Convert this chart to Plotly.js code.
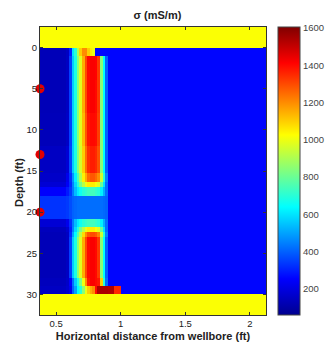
<!DOCTYPE html>
<html>
<head>
<meta charset="utf-8">
<script src="https://cdn.plot.ly/plotly-3.0.1.min.js"></script>
<style>html,body{margin:0;padding:0;background:#fff;}#chart{width:335px;height:346px;}</style>
</head>
<body>
<div id="chart"></div>
<script>
// Cell edges (ft)
const xEdges = [0.375, 0.58, 0.60, 0.62, 0.64, 0.66, 0.68, 0.70, 0.72, 0.74, 0.76, 0.78, 0.80, 0.82, 0.84, 0.86, 0.88, 0.90, 0.95, 1.00, 2.125];
const depthEdges = [-2.5, 0, 1, 4, 8, 12, 15.2, 16.3, 17, 18, 20.8, 21.8, 22.4, 23, 28, 29, 30, 32.5];

// Conductivity rows (mS/m), one per depth interval
const rowShoulderTop = [1020,1020,1020,1020,1020,1020,1020,1020,1020,1020,1020,1020,1020,1020,1020,1020,1020,1020,1020,1020];
const rowTop         = [130,150,300,600,700,900,1100,1200,1200,1100,1050,1000,260,260,260,260,260,260,260,260];
const rowInvA        = [130,150,350,560,680,850,980,1150,1300,1400,1420,1420,1410,1330,850,640,400,260,260,260];
const rowInvB        = [130,150,350,560,680,850,980,1150,1300,1400,1420,1420,1400,1330,850,640,400,260,260,260];
const rowInvC        = [135,155,350,560,680,850,980,1130,1280,1380,1400,1400,1390,1320,850,640,400,260,260,260];
const rowInvD        = [150,180,360,560,680,840,960,1100,1240,1340,1370,1370,1350,1290,850,640,400,260,260,260];
const rowOrange1     = [160,220,330,480,620,760,900,1050,1150,1250,1280,1280,1250,1200,950,700,450,260,260,260];
const rowYellow1     = [180,240,320,450,580,700,820,920,1000,1050,1050,1050,1020,980,800,600,420,260,260,260];
const rowCyan1       = [250,290,340,440,540,610,660,700,720,740,740,740,720,700,620,520,420,260,260,260];
const rowBand        = [330,340,370,400,410,420,420,420,420,420,420,420,420,420,420,410,400,260,260,260];
const rowCyan2       = [180,220,320,440,540,610,660,700,720,740,740,740,720,700,620,520,420,260,260,260];
const rowYellow2     = [140,170,300,450,580,700,820,920,1000,1050,1050,1050,1020,980,800,600,420,260,260,260];
const rowOrange2     = [130,150,320,500,640,780,920,1080,1200,1280,1300,1300,1280,1220,950,700,450,260,260,260];
const rowInvE        = [130,150,350,560,680,850,980,1150,1300,1400,1420,1420,1400,1330,850,640,400,260,260,260];
const rowInvF        = [140,160,250,420,560,680,820,1000,1200,1380,1420,1420,1400,1380,1100,700,420,260,260,260];
const rowBottom      = [150,170,220,400,500,640,700,850,1000,1100,1150,1200,1400,1530,1540,1540,1540,1530,1350,260];
const rowShoulderBot = [1020,1020,1020,1020,1020,1020,1020,1020,1020,1020,1020,1020,1020,1020,1020,1020,1020,1020,1020,1020];

// Sensor points (red dots)
const sensorX = [0.375, 0.375, 0.375];
const sensorDepth = [5, 13, 20];

// Tick labels
const xTickVals = [0.5, 1, 1.5, 2];
const xTickText = ['0.5', '1', '1.5', '2'];
const yTickVals = [0, 5, 10, 15, 20, 25, 30];
const cbTickVals = [200, 400, 600, 800, 1000, 1200, 1400, 1600];

const z = [rowShoulderTop,rowTop,rowInvA,rowInvB,rowInvC,rowInvD,rowOrange1,rowYellow1,rowCyan1,rowBand,rowCyan2,rowYellow2,rowOrange2,rowInvE,rowInvF,rowBottom,rowShoulderBot];

const jet = [[0,'rgb(0,0,143)'],[0.125,'rgb(0,0,255)'],[0.375,'rgb(0,255,255)'],[0.625,'rgb(255,255,0)'],[0.875,'rgb(255,0,0)'],[1,'rgb(128,0,0)']];

const font = {family: 'Liberation Sans, Arial, sans-serif', color: '#222'};

const data = [
  {
    type: 'heatmap', x: xEdges, y: depthEdges, z: z,
    colorscale: jet, zmin: 60, zmax: 1605, zsmooth: false, hoverinfo: 'skip',
    colorbar: {
      x: 1.055, xanchor: 'left', xpad: 0, ypad: 0, y: 0.5, yanchor: 'middle',
      len: 1, lenmode: 'fraction', thickness: 22, thicknessmode: 'pixels',
      outlinewidth: 1, outlinecolor: '#444',
      tickvals: cbTickVals, ticks: '', ticklabelpad: 2,
      tickfont: {family: font.family, size: 9.5, color: '#444'}
    }
  },
  {
    type: 'scatter', mode: 'markers', x: sensorX, y: sensorDepth,
    marker: {size: 9, color: 'rgb(225,0,0)'}, cliponaxis: false, hoverinfo: 'skip', showlegend: false
  }
];

const layout = {
  width: 335, height: 346,
  margin: {l: 40, r: 60, t: 27, b: 31},
  paper_bgcolor: '#fff', plot_bgcolor: '#fff',
  showlegend: false,
  font: Object.assign({size: 10}, font),
  title: {text: '<b>σ (mS/m)</b>', x: 0.47, xanchor: 'center', y: 0.957, yanchor: 'middle', font: Object.assign({size: 11}, font)},
  xaxis: {
    range: [0.375, 2.125], tickvals: xTickVals, ticktext: xTickText,
    ticks: 'inside', ticklen: 3, tickcolor: '#333', showline: true, linecolor: '#333', linewidth: 1, mirror: 'ticks',
    showgrid: false, zeroline: false, tickfont: Object.assign({size: 9.5}, font),
    title: {text: '<b>Horizontal distance from wellbore (ft)</b>', font: Object.assign({size: 11}, font), standoff: 3}
  },
  yaxis: {
    range: [32.5, -2.5], tickvals: yTickVals,
    ticks: 'inside', ticklen: 3, tickcolor: '#333', showline: true, linecolor: '#333', linewidth: 1, mirror: 'ticks',
    showgrid: false, zeroline: false, tickfont: Object.assign({size: 9.5}, font)
  },
  annotations: [
    {text: '<b>Depth (ft)</b>', xref: 'paper', yref: 'paper', x: -0.095, y: 0.46, textangle: -90,
     xanchor: 'center', yanchor: 'middle', showarrow: false, font: Object.assign({size: 11}, font)}
  ]
};

Plotly.newPlot('chart', data, layout, {displayModeBar: false, staticPlot: true});
</script>
</body>
</html>
